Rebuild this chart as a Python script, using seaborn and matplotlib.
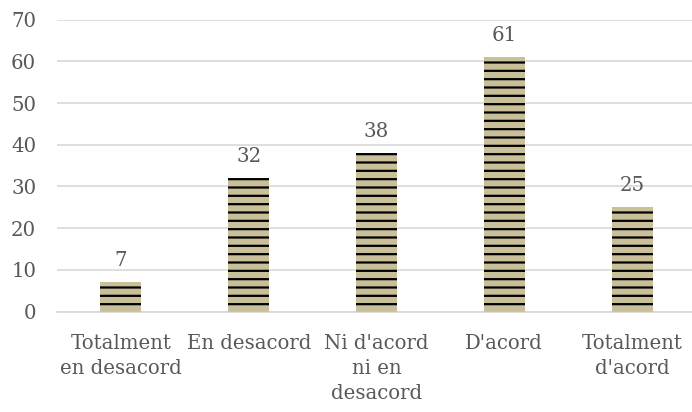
import matplotlib
matplotlib.use("Agg")
import matplotlib.pyplot as plt
import seaborn as sns
import pandas as pd

# Data
categories = ["Totalment\nen desacord", "En desacord", "Ni d'acord\nni en\ndesacord",
              "D'acord", "Totalment\nd'acord"]
values = [7, 32, 38, 61, 25]

df = pd.DataFrame({"cat": categories, "val": values})

sns.set_style("white")
plt.rcParams["font.family"] = ["DejaVu Serif"]
plt.rcParams["hatch.linewidth"] = 1.6

text_color = "#595959"
grid_color = "#D9D9D9"
fs = 14.2

fig = plt.figure(figsize=(6.92, 4.12), dpi=100)
ax = fig.add_axes([57 / 692, 100.5 / 412, 639 / 692, 291.8 / 412])

sns.barplot(data=df, x="cat", y="val", color="#C9C09A", saturation=1,
            width=0.32, ax=ax)

for p in ax.patches:
    p.set_hatch("--")
    p.set_edgecolor("black")
    p.set_linewidth(0)

ax.bar_label(ax.containers[0], padding=9, fontsize=fs, color=text_color)

ax.set_ylim(0, 70)
ax.set_yticks(range(0, 71, 10))
ax.yaxis.grid(True, color=grid_color, linewidth=1.2)
ax.set_axisbelow(True)
for s in ["top", "right", "left"]:
    ax.spines[s].set_visible(False)
ax.spines["bottom"].set_color(grid_color)
ax.spines["bottom"].set_linewidth(1.2)

ax.tick_params(axis="y", length=0, pad=15, labelsize=fs, labelcolor=text_color)
ax.tick_params(axis="x", length=0, pad=16, labelsize=fs, labelcolor=text_color)
for t in ax.get_xticklabels():
    t.set_linespacing(1.42)
ax.set_xlabel("")
ax.set_ylabel("")

fig.savefig("out.png", dpi=100)
